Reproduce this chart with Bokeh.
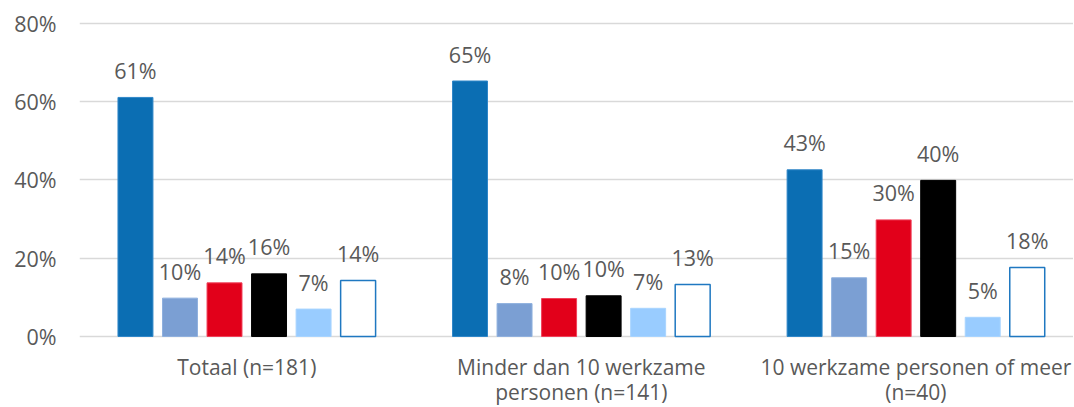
from bokeh.plotting import figure
from bokeh.models import Range1d, FixedTicker, PrintfTickFormatter, ColumnDataSource
from bokeh.transform import dodge
from bokeh.core.properties import value
from bokeh.embed import file_html
from bokeh.resources import INLINE

# ---- data ----
groups = ["Totaal (n=181)",
          "Minder dan 10 werkzame\npersonen (n=141)",
          "10 werkzame personen of meer\n(n=40)"]
series_names = ["Reeks 1", "Reeks 2", "Reeks 3", "Reeks 4", "Reeks 5", "Reeks 6"]
reeks1 = [61.1, 65.3, 42.6]
reeks2 = [9.8, 8.4, 15.0]
reeks3 = [13.7, 9.7, 29.8]
reeks4 = [16.0, 10.4, 39.9]
reeks5 = [7.0, 7.2, 4.9]
reeks6 = [14.3, 13.3, 17.6]
y_ticks = [0, 20, 40, 60, 80]

series = [reeks1, reeks2, reeks3, reeks4, reeks5, reeks6]
fills = ["#0b6eb3", "#7b9fd3", "#e2001a", "#000000", "#99ccff", "#ffffff"]
lines = ["#2f86c8", "#8fb0de", "#f0405a", "#000000", "#a8d4ff", "#1f78c1"]

FONT = "Open Sans"
TXT = "#595959"
FS = "21.5px"
FS_CAT = "21px"

p = figure(width=1073, height=406, output_backend="svg", toolbar_location=None,
           x_range=Range1d(-0.5, 2.471), y_range=Range1d(-17.9, 81.02))
p.min_border_left = 79
p.min_border_right = 0
p.min_border_top = 19
p.min_border_bottom = 0
p.outline_line_color = None
p.background_fill_color = "white"
p.border_fill_color = "white"

xs = list(range(len(groups)))
step = 0.1331
bw = 0.1045
for i, vals in enumerate(series):
    src = ColumnDataSource(dict(x=xs, top=vals,
                                lab=["%d%%" % round(v) for v in vals]))
    off = (i - 2.5) * step
    p.vbar(x=dodge("x", off), top="top", bottom=0, width=bw, source=src,
           fill_color=fills[i], line_color=lines[i],
           line_width=1.5 if i == 5 else 1)
    p.text(x=dodge("x", off), y="top", text="lab", source=src,
           text_align="center", text_baseline="alphabetic", y_offset=-27,
           text_font=value(FONT), text_font_size=FS, text_color=TXT)

# category labels (drawn below the 0 line)
line1 = [g.split("\n")[0] for g in groups]
line2 = [g.split("\n")[1] if "\n" in g else "" for g in groups]
csrc = ColumnDataSource(dict(x=xs, l1=line1, l2=line2))
p.text(x="x", y=-7.8, text="l1", source=csrc, text_align="center",
       text_baseline="alphabetic", text_font=value(FONT), text_font_size=FS_CAT,
       text_color=TXT)
p.text(x="x", y=-14.3, text="l2", source=csrc, text_align="center",
       text_baseline="alphabetic", text_font=value(FONT), text_font_size=FS_CAT,
       text_color=TXT)

# axes
p.yaxis.ticker = FixedTicker(ticks=y_ticks)
p.yaxis.formatter = PrintfTickFormatter(format="%d%%")
p.yaxis.axis_line_color = None
p.yaxis.major_tick_line_color = None
p.yaxis.minor_tick_line_color = None
p.yaxis.major_tick_out = 0
p.yaxis.major_label_standoff = 23
p.yaxis.major_label_text_font = FONT
p.yaxis.major_label_text_font_size = FS
p.yaxis.major_label_text_color = TXT

p.xaxis.visible = False

p.xgrid.grid_line_color = None
p.ygrid.grid_line_color = "#d9d9d9"
p.ygrid.grid_line_width = 1.5

open("out.html", "w").write(file_html(p, INLINE))
